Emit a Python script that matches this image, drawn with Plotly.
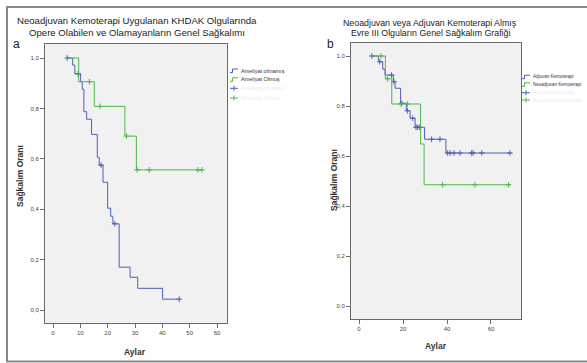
import plotly.graph_objects as go

W, H = 587, 363

# ---------------- Data: panel a ----------------
a_blue_t = [5.2, 7.2, 8.0, 10.1, 10.7, 11.3, 12.3, 14.1, 16.2, 16.9, 18.3, 20.0, 21.1, 21.9, 24.2, 28.2, 31.0, 40.1, 46.2]
a_blue_s = [1.0, 0.972, 0.937, 0.906, 0.876, 0.787, 0.757, 0.697, 0.606, 0.575, 0.507, 0.404, 0.372, 0.342, 0.170, 0.130, 0.086, 0.043, 0.043]
a_blue_ct = [5.2, 9.2, 17.6, 22.6, 46.2]
a_blue_cs = [1.0, 0.937, 0.575, 0.342, 0.043]

a_green_t = [5.2, 9.4, 15.1, 26.3, 30.5, 54.5]
a_green_s = [1.0, 0.906, 0.808, 0.690, 0.556, 0.556]
a_green_ct = [13.3, 17.2, 26.9, 30.8, 35.2, 53.0, 54.5]
a_green_cs = [0.906, 0.808, 0.690, 0.556, 0.556, 0.556, 0.556]

# ---------------- Data: panel b ----------------
b_blue_t = [5.8, 8.8, 10.8, 11.8, 15.6, 16.4, 18.9, 21.5, 23.2, 25.5, 29.8, 39.5, 69.4]
b_blue_s = [1.0, 0.977, 0.947, 0.924, 0.897, 0.871, 0.811, 0.781, 0.751, 0.715, 0.667, 0.612, 0.612]
b_blue_ct = [5.8, 9.5, 14.8, 15.9, 19.4, 22.0, 24.4, 25.9, 26.5, 27.4, 33.0, 36.8, 40.3, 41.4, 43.2, 45.9, 51.2, 51.9, 55.8, 68.6]
b_blue_cs = [1.0, 0.977, 0.924, 0.897, 0.811, 0.781, 0.751, 0.715, 0.715, 0.715, 0.667, 0.667, 0.612, 0.612, 0.612, 0.612, 0.612, 0.612, 0.612, 0.612]

b_green_t = [5.8, 12.0, 14.9, 28.0, 29.6, 69.0]
b_green_s = [1.0, 0.909, 0.808, 0.648, 0.485, 0.485]
b_green_ct = [10.0, 13.0, 19.1, 22.0, 38.0, 52.7, 67.9]
b_green_cs = [1.0, 0.909, 0.808, 0.808, 0.485, 0.485, 0.485]

a_x_ticks = [0, 10, 20, 30, 40, 50, 60]
b_x_ticks = [0, 20, 40, 60]
y_ticks = [0.0, 0.2, 0.4, 0.6, 0.8, 1.0]
y_tick_labels = ["0,0", "0,2", "0,4", "0,6", "0,8", "1,0"]

a_names = ["Ameliyat olmamış", "Ameliyat Olmuş"]
b_names = ["Adjuvan Kemoterapi", "Neoadjuvan Kemoterapi"]

BLUE = "#4b5fc0"
GREEN = "#4cb848"
FONT = "Liberation Sans"


def fx(px):
    return px / W


def fy(py):
    return 1 - py / H


fig = go.Figure()


def add_km(t, s, ct, cs, color, name, xa, ya):
    fig.add_trace(go.Scatter(x=t, y=s, mode="lines", line=dict(color=color, width=1, shape="hv"),
                             name=name, xaxis=xa, yaxis=ya, showlegend=False))
    fig.add_trace(go.Scatter(x=ct, y=cs, mode="markers",
                             marker=dict(symbol="cross-thin", size=4, color=color,
                                         line=dict(color=color, width=1)),
                             name=name + " (sansürlü)", xaxis=xa, yaxis=ya, showlegend=False))


add_km(a_blue_t, a_blue_s, a_blue_ct, a_blue_cs, BLUE, a_names[0], "x", "y")
add_km(a_green_t, a_green_s, a_green_ct, a_green_cs, GREEN, a_names[1], "x", "y")
add_km(b_blue_t, b_blue_s, b_blue_ct, b_blue_cs, BLUE, b_names[0], "x2", "y2")
add_km(b_green_t, b_green_s, b_green_ct, b_green_cs, GREEN, b_names[1], "x2", "y2")

axis_common = dict(showgrid=False, zeroline=False, showline=True, mirror=True,
                   linecolor="#6a6a6a", linewidth=1, ticks="outside", ticklen=4,
                   tickcolor="#6a6a6a", tickfont=dict(family=FONT, size=6, color="#444"))

fig.update_layout(
    width=W, height=H,
    margin=dict(l=0, r=0, t=0, b=0),
    paper_bgcolor="white",
    plot_bgcolor="#f1f1f1",
    showlegend=False,
    xaxis=dict(domain=[fx(45), fx(227)], range=[-2.93, 63.66], tickvals=a_x_ticks,
               anchor="y", **axis_common),
    yaxis=dict(domain=[fy(323), fy(44)], range=[-0.0516, 1.0556], tickvals=y_ticks,
               ticktext=y_tick_labels, anchor="x", **axis_common),
    xaxis2=dict(domain=[fx(351), fx(521)], range=[-3.64, 73.64], tickvals=b_x_ticks,
                anchor="y2", **axis_common),
    yaxis2=dict(domain=[fy(319), fy(43)], range=[-0.052, 1.052], tickvals=y_ticks,
                ticktext=y_tick_labels, anchor="x2", **axis_common),
)

ann = []
shapes = []

# outer frame
shapes.append(dict(type="rect", xref="paper", yref="paper", x0=fx(7), x1=fx(595), y0=fy(361.5), y1=fy(7),
                   line=dict(color="#888888", width=2), layer="below"))

# titles
ann.append(dict(x=fx(137), y=fy(20), text="Neoadjuvan Kemoterapi Uygulanan KHDAK Olgularında",
                font=dict(family=FONT, size=9.6, color="#222")))
ann.append(dict(x=fx(137), y=fy(32), text="Opere Olabilen ve Olamayanların Genel Sağkalımı",
                font=dict(family=FONT, size=9.6, color="#222")))
ann.append(dict(x=fx(430), y=fy(23), text="Neoadjuvan veya Adjuvan Kemoterapi Almış",
                font=dict(family=FONT, size=8.8, color="#222")))
ann.append(dict(x=fx(430), y=fy(33), text="Evre III Olguların Genel Sağkalım Grafiği",
                font=dict(family=FONT, size=8.8, color="#222")))
ann.append(dict(x=fx(16), y=fy(44), text="a", font=dict(family=FONT, size=12, color="#222")))
ann.append(dict(x=fx(330), y=fy(44), text="b", font=dict(family=FONT, size=12, color="#222")))

# axis titles
ann.append(dict(x=fx(135), y=fy(352), text="<b>Aylar</b>", font=dict(family=FONT, size=8.5, color="#333")))
ann.append(dict(x=fx(436), y=fy(346), text="<b>Aylar</b>", font=dict(family=FONT, size=8.5, color="#333")))
ann.append(dict(x=fx(20), y=fy(176), text="<b>Sağkalım Oranı</b>", textangle=-90,
                font=dict(family=FONT, size=8.5, color="#333")))
ann.append(dict(x=fx(334), y=fy(180), text="<b>Sağkalım Oranı</b>", textangle=-90,
                font=dict(family=FONT, size=8.5, color="#333")))


def legend(x0, ys, names, colors, fsize):
    for i, (name, col) in enumerate(zip(names, colors)):
        y = ys[i]
        path = "M {} {} L {} {} L {} {} L {} {}".format(
            fx(x0), fy(y + 2), fx(x0 + 2.5), fy(y + 2), fx(x0 + 2.5), fy(y - 1.5), fx(x0 + 8), fy(y - 1.5))
        shapes.append(dict(type="path", xref="paper", yref="paper", path=path,
                           line=dict(color=col, width=1)))
        ann.append(dict(x=fx(x0 + 9), y=fy(y), text=name, xanchor="left",
                        font=dict(family=FONT, size=fsize, color="#333")))
    for j, col in enumerate(colors):
        y = ys[2 + j]
        shapes.append(dict(type="line", xref="paper", yref="paper", x0=fx(x0), x1=fx(x0 + 8),
                           y0=fy(y), y1=fy(y), line=dict(color=col, width=1)))
        shapes.append(dict(type="line", xref="paper", yref="paper", x0=fx(x0 + 4), x1=fx(x0 + 4),
                           y0=fy(y - 2.5), y1=fy(y + 2.5), line=dict(color=col, width=1)))
        ann.append(dict(x=fx(x0 + 9), y=fy(y), text=names[j], xanchor="left",
                        font=dict(family=FONT, size=fsize, color="#ececec")))


legend(230, [70.5, 79.3, 88.3, 98.0], a_names, [BLUE, GREEN], 5.5)
legend(522, [76.7, 84.3, 92.7, 100.0], b_names, [BLUE, GREEN], 4.5)

for a in ann:
    a.setdefault("xref", "paper")
    a.setdefault("yref", "paper")
    a.setdefault("showarrow", False)
    a.setdefault("xanchor", "center")
    a.setdefault("yanchor", "middle")

fig.update_layout(annotations=ann, shapes=shapes)
fig.write_html("out.html", config={"displayModeBar": False},
               post_script="document.body.style.margin='0px';")
